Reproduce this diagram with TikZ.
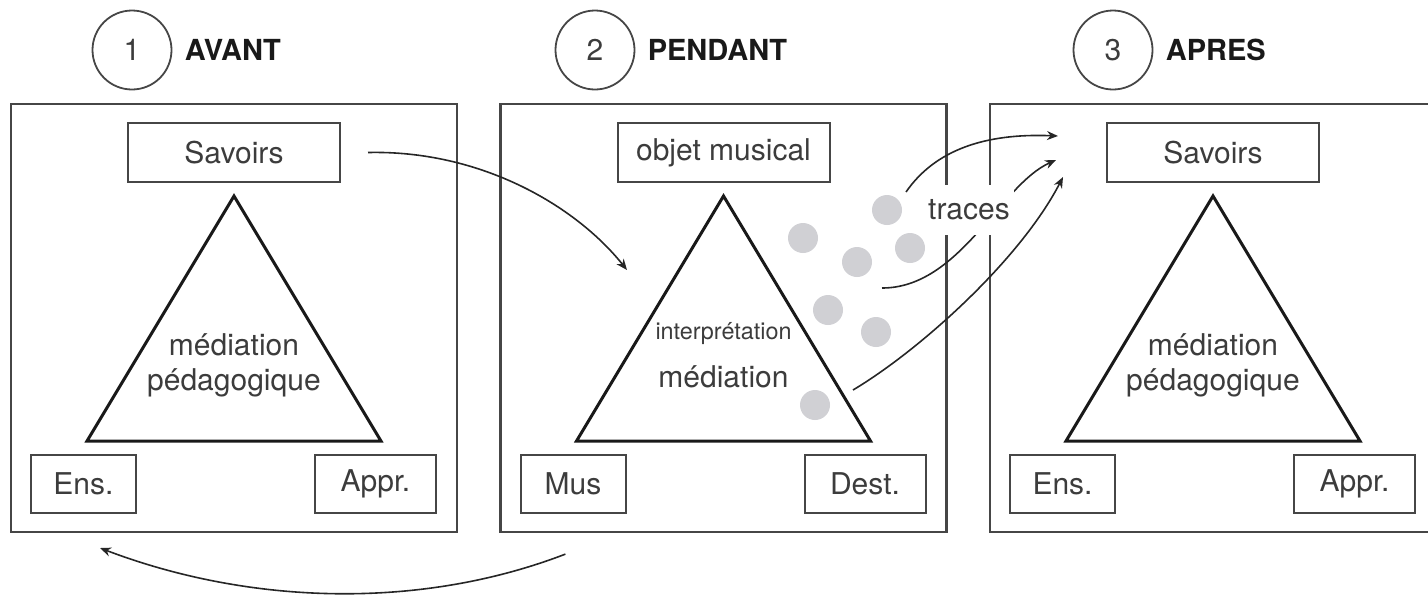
\documentclass[tikz,border=0pt]{standalone}
\usepackage{fontspec}
\setmainfont{TeX Gyre Heros}
\usetikzlibrary{positioning,calc,arrows.meta}
\definecolor{txtgray}{RGB}{60,60,60}
\definecolor{linegray}{RGB}{70,70,70}
\definecolor{dotgray}{RGB}{208,208,212}

\begin{document}
\begin{tikzpicture}[x=0.5pt,y=-0.5pt,node distance=244.75pt]
	\tikzstyle{panel} = [rectangle,draw=linegray,line width=1.1pt,minimum width=223pt,
	minimum height=214pt,inner sep=0pt]
	\tikzstyle{topbox} = [rectangle,draw=linegray,line width=1pt,minimum width=106pt,
	minimum height=29.5pt,inner sep=0pt,text=txtgray,font=\fontsize{15}{18}\selectfont]
	\tikzstyle{lbox} = [topbox,minimum width=52.5pt,minimum height=29pt]
	\tikzstyle{rbox} = [topbox,minimum width=60.5pt,minimum height=29pt]
	\tikzstyle{tri} = [draw=black!90,line width=1.5pt,line join=miter]
	\tikzstyle{num} = [circle,draw=linegray,line width=0.9pt,minimum size=39.5pt,inner sep=0pt,
	text=txtgray,font=\fontsize{15}{18}\selectfont]
	\tikzstyle{head} = [font=\bfseries\fontsize{14.5}{17}\selectfont,text=black!90,inner sep=0pt]
	\tikzstyle{lbl} = [text=txtgray,font=\fontsize{15}{17.5}\selectfont,align=center,inner sep=0pt]
	\tikzstyle{arr} = [draw=black!85,line width=0.8pt,-{Stealth[length=5.5pt,width=4.5pt]}]
	\tikzstyle{dot} = [fill=dotgray]

	\useasboundingbox (0,0) rectangle (1428,596);
	\clip (0,0) rectangle (1428,596);

	% headings
	\node (num1) [num] at (132,50) {1};
	\node (head1) [head, right=6pt of num1] {AVANT};
	\node (num2) [num] at (595,50) {2};
	\node (head2) [head, right=6pt of num2] {PENDANT};
	\node (num3) [num] at (1113,50) {3};
	\node (head3) [head, right=6pt of num3] {APRES};

	% panels
	\node (panel1) [panel] at (234,318) {};
	\node (panel2) [panel, right of=panel1] {};
	\node (panel3) [panel, right of=panel2] {};

	\node (sav1) [topbox, above of=panel1, node distance=82.75pt] {Savoirs};
	\node (obj2) [topbox, above of=panel2, node distance=82.75pt] {objet musical};
	\node (sav3) [topbox, above of=panel3, node distance=82.75pt] {Savoirs};

	\node (ens1) [lbox, below of=panel1, node distance=83pt, xshift=-75.25pt] {Ens.};
	\node (appr1) [rbox, below of=panel1, node distance=83pt, xshift=70.75pt] {Appr.};
	\node (mus2) [lbox, below of=panel2, node distance=83pt, xshift=-75.25pt] {Mus};
	\node (dest2) [rbox, below of=panel2, node distance=83pt, xshift=70.75pt] {Dest.};
	\node (ens3) [lbox, below of=panel3, node distance=83pt, xshift=-75.25pt] {Ens.};
	\node (appr3) [rbox, below of=panel3, node distance=83pt, xshift=70.75pt] {Appr.};

	% triangles
	\draw[tri] ($(panel1)+(0,-122)$) -- ($(panel1)+(147,123)$) -- ($(panel1)+(-147,123)$) -- cycle;
	\draw[tri] ($(panel2)+(0,-122)$) -- ($(panel2)+(147,123)$) -- ($(panel2)+(-147,123)$) -- cycle;
	\draw[tri] ($(panel3)+(0,-122)$) -- ($(panel3)+(147,123)$) -- ($(panel3)+(-147,123)$) -- cycle;

	\node (med1) [lbl, below of=panel1, node distance=23.75pt] {médiation\\pédagogique};
	\node (int2) [lbl, below of=panel2, node distance=8pt, font=\fontsize{11.7}{14}\selectfont] {interprétation};
	\node (med2) [lbl, below of=panel2, node distance=29.5pt] {médiation};
	\node (med3) [lbl, below of=panel3, node distance=23.75pt] {médiation\\pédagogique};

	% traces
	\fill[dot] (887,210) circle (7.5pt);
	\fill[dot] (803,238) circle (7.5pt);
	\fill[dot] (910,248) circle (7.5pt);
	\fill[dot] (857,262) circle (7.5pt);
	\fill[dot] (828,310) circle (7.5pt);
	\fill[dot] (876,332) circle (7.5pt);
	\fill[dot] (815,405) circle (7.5pt);

	% arrows
	\coordinate (in2) at (627,270);
	\coordinate (back1) at (100,548);
	\coordinate (t1) at (906,192);
	\coordinate (t2) at (882,288);
	\coordinate (t3) at (853,390);
	\coordinate (e1) at (1058,136);
	\coordinate (e2) at (1056,160);
	\coordinate (e3) at (1063,177);

	\draw[arr] ([xshift=13.5pt]sav1.east) .. controls (480,150) and (575,205) .. (in2);
	\draw[arr] ([xshift=33pt,yshift=-10.5pt]panel2.south west) .. controls (420,610) and (250,605) .. (back1);
	\draw[arr] (t1) .. controls (935,150) and (985,133) .. (e1);
	\draw[arr] (t2) .. controls (960,288) and (1000,185) .. (e2);
	\draw[arr] (t3) .. controls (920,350) and (1020,260) .. (e3);

	\node (tr) [lbl, fill=white, minimum height=25pt, inner xsep=2pt] at (969,210) {traces};
\end{tikzpicture}
\end{document}
